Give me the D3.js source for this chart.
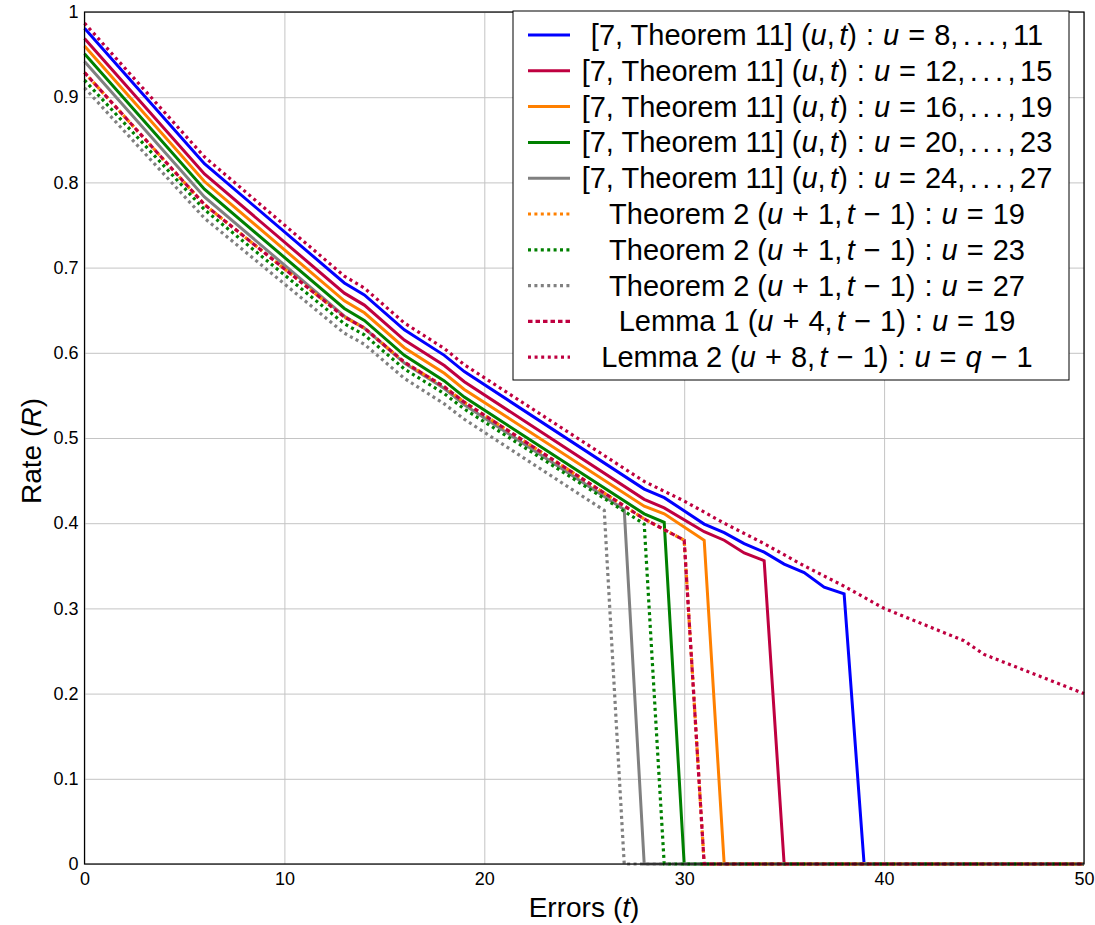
<!DOCTYPE html>
<html>
<head>
<meta charset="utf-8">
<script src="https://cdn.jsdelivr.net/npm/d3@7"></script>
<style>
  html, body { margin: 0; padding: 0; background: #fff; }
  svg { display: block; }
  text { font-family: "Liberation Sans", Arial, Helvetica, sans-serif; fill: #000; }
</style>
</head>
<body>
<svg id="chart" width="1095" height="925"></svg>
<script>
// ---------------- data ----------------
const xTicks = [0, 10, 20, 30, 40, 50];
const yTicks = [0, 0.1, 0.2, 0.3, 0.4, 0.5, 0.6, 0.7, 0.8, 0.9, 1];

// [7, Theorem 11] u = 8..11 (blue)
const blueT = [0, 6, 13, 14, 16, 18, 19, 28, 29, 31, 32, 33, 34, 35, 36, 37, 38, 39, 50];
const blueR = [0.981, 0.822, 0.682, 0.668, 0.627, 0.597, 0.578, 0.440, 0.430, 0.399, 0.389, 0.376, 0.366, 0.352, 0.342, 0.325, 0.317, 0, 0];
// u = 12..15 (purple)
const purpleT = [0, 6, 13, 14, 16, 18, 19, 28, 29, 31, 32, 33, 34, 35, 50];
const purpleR = [0.969, 0.810, 0.670, 0.656, 0.615, 0.585, 0.566, 0.428, 0.418, 0.390, 0.380, 0.365, 0.356, 0, 0];
// u = 16..19 (orange)
const orangeT = [0, 6, 13, 14, 16, 18, 19, 28, 29, 31, 32, 50];
const orangeR = [0.960, 0.801, 0.661, 0.647, 0.606, 0.576, 0.557, 0.420, 0.411, 0.380, 0, 0];
// u = 20..23 (green)
const greenT = [0, 6, 13, 14, 16, 18, 19, 28, 29, 30, 50];
const greenR = [0.951, 0.792, 0.652, 0.638, 0.597, 0.567, 0.548, 0.411, 0.401, 0, 0];
// u = 24..27 (gray)
const grayT = [0, 6, 13, 14, 16, 18, 19, 27, 28, 50];
const grayR = [0.942, 0.783, 0.643, 0.629, 0.588, 0.558, 0.539, 0.416, 0, 0];
// Theorem 2, u = 19 (orange dotted)
const thm2u19T = [0, 6, 13, 14, 16, 18, 19, 28, 30, 31, 50];
const thm2u19R = [0.929, 0.774, 0.642, 0.629, 0.589, 0.560, 0.542, 0.405, 0.380, 0, 0];
// Theorem 2, u = 23 (green dotted)
const thm2u23T = [0, 6, 13, 14, 16, 18, 19, 28, 29, 50];
const thm2u23R = [0.920, 0.768, 0.634, 0.621, 0.581, 0.552, 0.534, 0.399, 0, 0];
// Theorem 2, u = 27 (gray dotted)
const thm2u27T = [0, 6, 13, 14, 16, 18, 19, 26, 27, 50];
const thm2u27R = [0.911, 0.758, 0.623, 0.610, 0.570, 0.540, 0.522, 0.415, 0, 0];
// Lemma 1, u = 19 (purple dashed)
const lem1T = [0, 6, 13, 14, 16, 18, 19, 28, 30, 31, 50];
const lem1R = [0.929, 0.774, 0.642, 0.629, 0.589, 0.560, 0.542, 0.405, 0.380, 0, 0];
// Lemma 2, u = q-1 (purple dotted)
const lem2T = [0, 6, 13, 14, 16, 18, 19, 28, 30, 32, 34, 36, 38, 40, 44, 45, 50];
const lem2R = [0.987, 0.830, 0.690, 0.676, 0.635, 0.605, 0.586, 0.449, 0.426, 0.400, 0.376, 0.350, 0.326, 0.300, 0.262, 0.246, 0.200];

// label tokens: plain string, I() italic math, G gap (math spacing)
const I = s => ({ t: s, i: true });
const G = { g: 9 };     // relation / binary-operator space
const T = { g: 4.5 };   // thin space
const thm11 = (a, b) => ["[7, Theorem 11]", { g: 8 }, "(", I("u"), ",", T, I("t"), ")", G, ":", G, I("u"), G, "=", G,
  a + ",", T, ".", T, ".", T, ".", T, ",", T, b];
const shifted = (head, k, tail) => [head, { g: 8 }, "(", I("u"), G, "+", G, k + ",", T, I("t"), G, "\u2212", G, "1)", G, ":", G, I("u"), G, "=", G].concat(tail);

const series = [
  { t: blueT, r: blueR, color: "#0000ff", dash: null, label: thm11("8", "11") },
  { t: purpleT, r: purpleR, color: "#bf0040", dash: null, label: thm11("12", "15") },
  { t: orangeT, r: orangeR, color: "#ff8000", dash: null, label: thm11("16", "19") },
  { t: greenT, r: greenR, color: "#008000", dash: null, label: thm11("20", "23") },
  { t: grayT, r: grayR, color: "#808080", dash: null, label: thm11("24", "27") },
  { t: thm2u19T, r: thm2u19R, color: "#ff8000", dash: "3,3.4", label: shifted("Theorem 2", "1", ["19"]) },
  { t: thm2u23T, r: thm2u23R, color: "#008000", dash: "3,3.4", label: shifted("Theorem 2", "1", ["23"]) },
  { t: thm2u27T, r: thm2u27R, color: "#808080", dash: "3,3.4", label: shifted("Theorem 2", "1", ["27"]) },
  { t: lem1T, r: lem1R, color: "#bf0040", dash: "4.5,3", label: shifted("Lemma 1", "4", ["19"]) },
  { t: lem2T, r: lem2R, color: "#bf0040", dash: "3,3.6", label: shifted("Lemma 2", "8", [I("q"), G, "\u2212", G, "1"]) }
];

// ---------------- layout ----------------
const svg = d3.select("#chart");
const X0 = 84.5, X1 = 1084, Y0 = 864, Y1 = 12;
const x = d3.scaleLinear().domain([0, 50]).range([X0, X1]);
const y = d3.scaleLinear().domain([0, 1]).range([Y0, Y1]);
const fmt = d => String(+d.toFixed(1));

// grid
const gx = svg.append("g").attr("transform", `translate(0,${Y0})`)
  .call(d3.axisBottom(x).tickValues(xTicks).tickSize(-(Y0 - Y1)).tickFormat(""));
gx.select(".domain").remove();
gx.selectAll("line").attr("stroke", "#c4c4c4").attr("stroke-width", 1);
const gy = svg.append("g").attr("transform", `translate(${X0},0)`)
  .call(d3.axisLeft(y).tickValues(yTicks).tickSize(-(X1 - X0)).tickFormat(""));
gy.select(".domain").remove();
gy.selectAll("line").attr("stroke", "#c4c4c4").attr("stroke-width", 1);

// lines
const line = d3.line().x(d => x(d[0])).y(d => y(d[1]));
series.forEach(s => {
  const pts = s.t.map((t, k) => [t, s.r[k]]);
  svg.append("path").datum(pts)
    .attr("d", line)
    .attr("fill", "none")
    .attr("stroke", s.color)
    .attr("stroke-width", s.dash ? 3.2 : 3)
    .attr("stroke-linejoin", "miter")
    .attr("stroke-dasharray", s.dash);
});

// frame
svg.append("rect").attr("x", X0).attr("y", Y1).attr("width", X1 - X0).attr("height", Y0 - Y1)
  .attr("fill", "none").attr("stroke", "#000").attr("stroke-width", 1.2);

// tick labels
const ax = svg.append("g").attr("transform", `translate(0,${Y0})`)
  .call(d3.axisBottom(x).tickValues(xTicks).tickSize(0).tickPadding(8).tickFormat(fmt));
ax.select(".domain").remove();
ax.selectAll("text").style("font-size", "18px").style("font-family", "'Liberation Sans', Arial, sans-serif").attr("fill", "#000");
const ay = svg.append("g").attr("transform", `translate(${X0},0)`)
  .call(d3.axisLeft(y).tickValues(yTicks).tickSize(0).tickPadding(6).tickFormat(fmt));
ay.select(".domain").remove();
ay.selectAll("text").style("font-size", "18px").style("font-family", "'Liberation Sans', Arial, sans-serif").attr("fill", "#000");

// rich text helper
function rich(sel, parts) {
  let pending = 0;
  parts.forEach(p => {
    if (p && p.g !== undefined) { pending += p.g; return; }
    const ts = sel.append("tspan").text(typeof p === "string" ? p : p.t);
    if (typeof p !== "string") ts.attr("font-style", "italic");
    if (pending) { ts.attr("dx", pending); pending = 0; }
  });
  return sel;
}

// axis titles
rich(svg.append("text").attr("x", 584).attr("y", 917).attr("text-anchor", "middle")
  .style("font-size", "28px"), ["Errors", { g: 8 }, "(", I("t"), ")"]);
rich(svg.append("text").attr("transform", `translate(41,451) rotate(-90)`).attr("text-anchor", "middle")
  .style("font-size", "28px"), ["Rate", { g: 8 }, "(", I("R"), ")"]);

// legend
const LX0 = 513, LX1 = 1069, LY0 = 11, LY1 = 380;
svg.append("rect").attr("x", LX0).attr("y", LY0).attr("width", LX1 - LX0).attr("height", LY1 - LY0)
  .attr("fill", "#fff").attr("stroke", "#000").attr("stroke-width", 1);
series.forEach((s, k) => {
  const cy = 35 + k * 35.8;
  svg.append("line").attr("x1", 528).attr("x2", 570).attr("y1", cy).attr("y2", cy)
    .attr("stroke", s.color).attr("stroke-width", s.dash ? 3.2 : 3).attr("stroke-dasharray", s.dash);
  rich(svg.append("text").attr("x", 817).attr("y", cy + 10).attr("text-anchor", "middle")
    .style("font-size", "29px"), s.label);
});
</script>
</body>
</html>
